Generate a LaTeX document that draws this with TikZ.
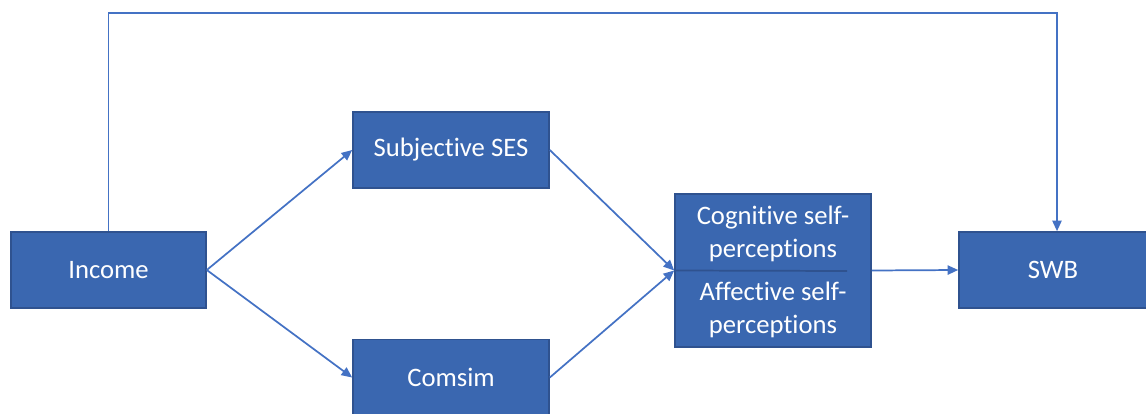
\documentclass[tikz,border=0pt]{standalone}
\usepackage{fontspec}
\setmainfont[Ligatures=NoCommon]{Carlito}
\usetikzlibrary{arrows.meta}
\definecolor{boxfill}{RGB}{58,103,176}
\definecolor{boxedge}{RGB}{47,82,143}
\definecolor{linec}{RGB}{68,114,196}
\tikzset{
  blk/.style={draw=boxedge, line width=1.2pt, fill=boxfill, text=white, inner sep=0pt, align=center,
    font=\fontsize{20}{25}\selectfont},
  conn/.style={draw=linec, line width=1.3pt, -{Triangle[length=8pt,width=7pt]}}
}
\begin{document}
\begin{tikzpicture}[x=0.75pt,y=-0.75pt]
\useasboundingbox (0,0) rectangle (1146,414);
\node[blk, minimum width=146.25pt, minimum height=57pt] (inc) at (108.5,270) {Income};
\node[blk, minimum width=147pt, minimum height=57pt] (ses) at (451,150) {Subjective SES};
\node[blk, minimum width=147pt, minimum height=57pt] (com) at (451,377.5) {Comsim};
\node[blk, minimum width=147pt, minimum height=114.75pt] (mid) at (773,270.5) {};
\node[blk, minimum width=141pt, minimum height=57pt] (swb) at (1053,270) {SWB};
\node[text=white, align=center, font=\fontsize{20}{25}\selectfont, inner sep=0pt] (cog) at (773,234) {Cognitive self-\\perceptions};
\node[text=white, align=center, font=\fontsize{20}{25}\selectfont, inner sep=0pt] (aff) at (773,310) {Affective self-\\perceptions};
\coordinate (divend) at (847,271);
\draw[boxedge, line width=1.3pt] (mid.west) -- (divend);
\draw[conn] (inc.east) -- (ses.west);
\draw[conn] (inc.east) -- (com.west);
\draw[conn] (ses.east) -- (mid.west);
\draw[conn] (com.east) -- (mid.west);
\draw[conn] (mid.east) -- (swb.west);
\coordinate (tl) at (108.5,13);
\coordinate (tr) at (1057,13);
\draw[conn] (inc.north) -- (tl) -- (tr) -- (tr |- swb.north);
\end{tikzpicture}
\end{document}
